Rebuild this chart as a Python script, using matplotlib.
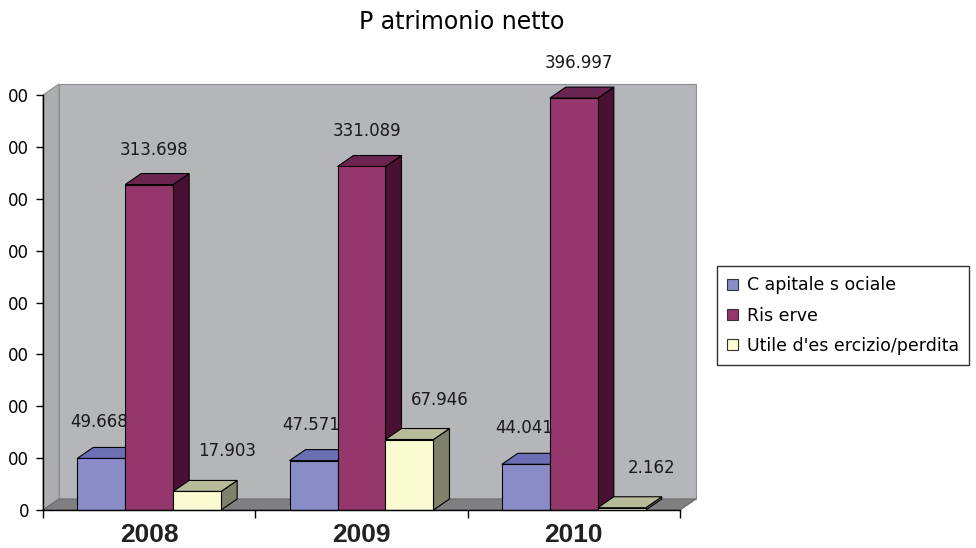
import matplotlib.pyplot as plt
import numpy as np
from matplotlib.patches import Polygon, Patch

# Dati
anni = ['2008', '2009', '2010']
voci = ['C apitale s ociale', 'Ris erve', "Utile d'es ercizio/perdita"]
capitale = [49668, 47571, 44041]
riserve = [313698, 331089, 396997]
utile = [17903, 67946, 2162]
valori = [capitale, riserve, utile]

# asse Y: valori delle tacche e testo visibile (tagliato nell'originale)
y_tacche = [0, 50000, 100000, 150000, 200000, 250000, 300000, 350000, 400000]
y_etichette = ['0', '00', '00', '00', '00', '00', '00', '00', '00']

# colori: fronte, sopra, lato
colori = [
    ('#8a8cc8', '#6d6fb4', '#4c4e8a'),
    ('#95376c', '#6c2450', '#4a1033'),
    ('#fbfbd2', '#b8bb9a', '#7f816a'),
]

def fmt(v):
    return f"{v:,}".replace(',', '.')

W, H = 976, 548
fig = plt.figure(figsize=(W / 100, H / 100), dpi=100)
ax = fig.add_axes([43 / W, (H - 510) / H, (680 - 43) / W, (510 - 95) / H])
ax.set_xlim(0, 3)
ax.set_ylim(0, 400000)
for s in ax.spines.values():
    s.set_visible(False)
ax.patch.set_visible(False)

# profondita' 3D in unita' dati
dx = 16 / (680 - 43) * 3
dy = 11 / (510 - 95) * 400000
ymax = 400000

# pareti
ax.add_patch(Polygon([(dx, dy), (3 + dx, dy), (3 + dx, ymax + dy), (dx, ymax + dy)],
                     closed=True, fc='#b5b6ba', ec='#8e8f93', lw=0.8, clip_on=False, zorder=0))
ax.add_patch(Polygon([(0, 0), (dx, dy), (dx, ymax + dy), (0, ymax)],
                     closed=True, fc='#acadb1', ec='#8e8f93', lw=0.8, clip_on=False, zorder=0))
ax.add_patch(Polygon([(0, 0), (3, 0), (3 + dx, dy), (dx, dy)],
                     closed=True, fc='#808083', ec='#6a6a6d', lw=0.8, clip_on=False, zorder=0.5))

# barre 3D
w = 0.226
z = 1
for g in range(len(anni)):
    for i, serie in enumerate(valori):
        v = serie[g]
        x0 = g + 0.5 - 1.5 * w + i * w
        x1 = x0 + w
        front, top, side = colori[i]
        ax.add_patch(Polygon([(x1, 0), (x1 + dx, dy), (x1 + dx, v + dy), (x1, v)],
                             closed=True, fc=side, ec='black', lw=0.8, clip_on=False, zorder=z))
        ax.add_patch(Polygon([(x0, v), (x1, v), (x1 + dx, v + dy), (x0 + dx, v + dy)],
                             closed=True, fc=top, ec='black', lw=0.8, clip_on=False, zorder=z))
        ax.add_patch(Polygon([(x0, 0), (x1, 0), (x1, v), (x0, v)],
                             closed=True, fc=front, ec='black', lw=0.8, clip_on=False, zorder=z + 0.5))
        z += 1

# etichette dati (spostamenti in pixel per serie)
spost = [(-2, 36), (5, 35), (30, 40)]
for g in range(len(anni)):
    for i, serie in enumerate(valori):
        v = serie[g]
        xc = g + 0.5 - 1.5 * w + i * w + w / 2
        ax.annotate(fmt(v), xy=(xc, v), xytext=spost[i], textcoords='offset pixels',
                    ha='center', va='center', fontsize=12, color='#1a1a1a',
                    annotation_clip=False, zorder=50)

# assi
ax.plot([0, 0], [0, ymax], color='black', lw=1, clip_on=False, zorder=40)
ax.plot([0, 3], [0, 0], color='black', lw=1, clip_on=False, zorder=40)
ax.set_yticks(y_tacche, y_etichette)
ax.tick_params(axis='y', direction='out', length=5, width=1, pad=5, labelsize=12)
ax.set_xticks([0, 1, 2, 3], ['', '', '', ''])
ax.tick_params(axis='x', which='major', direction='out', length=6, width=1)
ax.set_xticks([0.5, 1.5, 2.5], anni, minor=True)
ax.tick_params(axis='x', which='minor', length=0, pad=9)
for t in ax.get_xticklabels(minor=True):
    t.set_fontfamily('Liberation Sans')
    t.set_fontweight('bold')
    t.set_fontsize(19)
    t.set_color('#222222')

fig.text(462 / W, 1 - 22 / H, 'P atrimonio netto', ha='center', va='center',
         fontsize=17, color='black')

handles = [Patch(fc=c[0], ec='#333333', lw=0.8) for c in colori]
leg = ax.legend(handles, voci, loc='upper left', bbox_to_anchor=(717 / W, 1 - 266 / H),
                bbox_transform=fig.transFigure, frameon=True, fancybox=False,
                fontsize=12.5, handlelength=0.6, handleheight=0.6, handletextpad=0.5,
                labelspacing=0.7, borderpad=0.6, borderaxespad=0)
leg.get_frame().set_edgecolor('black')
leg.get_frame().set_linewidth(1)

fig.savefig('out.png', dpi=100)
